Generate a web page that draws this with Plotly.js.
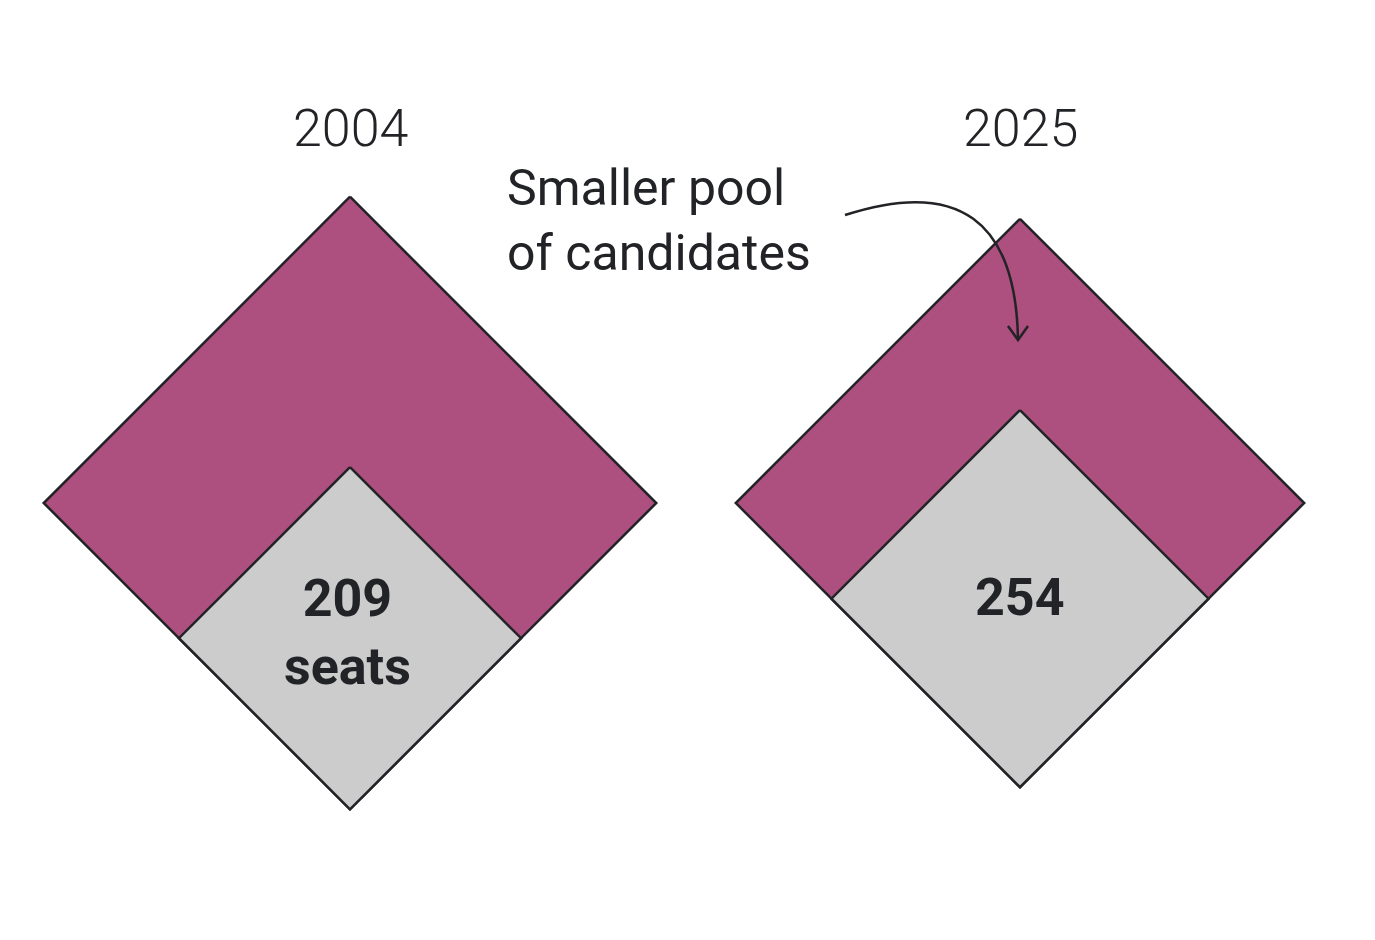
<!DOCTYPE html>
<html>
<head>
<meta charset="utf-8">
<script src="https://cdn.plot.ly/plotly-3.0.1.min.js"></script>
<style>body{margin:0;background:#fff}</style>
</head>
<body>
<div id="plot" style="width:1375px;height:940px"></div>
<script>
const years = ['2004', '2025'];
const candidates = [670, 577];   // estimated from diamond areas
const seats = [209, 254];
const seatLabels = ['209<br>seats', '254'];

const centersX = [350, 1020];
const centerY = 503;
const scale = Math.sqrt(140);     // half-diagonal per sqrt(value)
const purple = '#ae507f', grey = '#cccccc', ink = '#222326';

function diamond(cx, cy, h) {
  return {
    x: [cx, cx + h, cx, cx - h, cx],
    y: [cy - h, cy, cy + h, cy, cy - h]
  };
}

const data = [];
const annotations = [];
years.forEach((yr, i) => {
  const H = scale * Math.sqrt(candidates[i]);
  const h = scale * Math.sqrt(seats[i]);
  const bottom = centerY + H;
  const outer = diamond(centersX[i], centerY, H);
  const inner = diamond(centersX[i], bottom - h, h);
  data.push({
    type: 'scatter', mode: 'lines', x: outer.x, y: outer.y,
    fill: 'toself', fillcolor: purple, line: { color: ink, width: 2.5 },
    hoverinfo: 'skip', showlegend: false
  });
  data.push({
    type: 'scatter', mode: 'lines', x: inner.x, y: inner.y,
    fill: 'toself', fillcolor: grey, line: { color: ink, width: 2.5 },
    hoverinfo: 'skip', showlegend: false
  });
  annotations.push({
    x: centersX[i], y: 128, text: yr, showarrow: false,
    font: { family: 'Roboto', size: 52, color: ink, weight: 300 }
  });
  annotations.push({
    x: centersX[i] - (i === 0 ? 3 : 0), y: i === 0 ? 632 : 597, text: seatLabels[i], showarrow: false,
    font: { family: 'Roboto', size: 52, color: ink, weight: 700 }
  });
});

annotations.push({
  x: 505, y: 220, xanchor: 'left', align: 'left', showarrow: false,
  text: 'Smaller pool<br>of candidates',
  font: { family: 'Roboto', size: 50, color: ink }
});

const layout = {
  width: 1375, height: 940,
  margin: { l: 0, r: 0, t: 0, b: 0 },
  paper_bgcolor: '#fff', plot_bgcolor: '#fff',
  xaxis: { range: [0, 1375], visible: false, fixedrange: true },
  yaxis: { range: [940, 0], visible: false, fixedrange: true },
  annotations,
  shapes: [
    { type: 'path', path: 'M845,215 Q1015,160 1018,340', line: { color: ink, width: 2.5 } },
    { type: 'path', path: 'M1008,326 L1018,340 L1028,326', line: { color: ink, width: 2.5 } }
  ]
};

Plotly.newPlot('plot', data, layout, { displayModeBar: false, staticPlot: true });
</script>
</body>
</html>
